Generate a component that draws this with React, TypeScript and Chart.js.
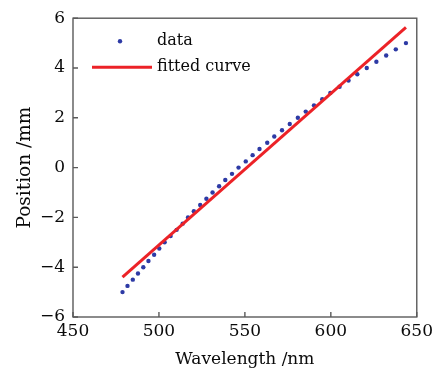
import React, { useEffect, useRef } from "react";
import { Chart, registerables } from "chart.js";

Chart.register(...registerables);

// Measured data points (wavelength in nm, position in mm)
const wavelength = [
  478.8, 481.7, 484.8, 487.8, 490.9, 493.9, 497.2, 500.2, 503.3, 506.8,
  510.3, 513.8, 516.9, 520.3, 524.0, 527.6, 531.2, 535.0, 538.6, 542.5,
  546.3, 550.5, 554.5, 558.5, 563.0, 567.1, 571.6, 576.1, 580.8, 585.4,
  590.2, 595.0, 599.7, 605.1, 610.3, 615.4, 620.9, 626.5, 632.2, 637.8,
  643.7,
];
const position = [
  -5.0, -4.75, -4.5, -4.25, -4.0, -3.75, -3.5, -3.25, -3.0, -2.75,
  -2.5, -2.25, -2.0, -1.75, -1.5, -1.25, -1.0, -0.75, -0.5, -0.25,
  0.0, 0.25, 0.5, 0.75, 1.0, 1.25, 1.5, 1.75, 2.0, 2.25,
  2.5, 2.75, 3.0, 3.25, 3.5, 3.75, 4.0, 4.25, 4.5, 4.75,
  5.0,
];
// Fitted straight line endpoints
const fitWavelength = [478.8, 643.7];
const fitPosition = [-4.4, 5.63];

const xTicks = [450, 500, 550, 600, 650];
const yTicks = [-6, -4, -2, 0, 2, 4, 6];
const legendLabels = ["data", "fitted curve"];
const xTitle = "Wavelength /nm";
const yTitle = "Position /mm";

const FONT = "'DejaVu Serif', serif";
const DOT = "#2d3aa5";
const RED = "#ec2227";
const FRAME = "#5a5a5a";
const TEXT = "#0a0a0a";

const framePlugin = {
  id: "frameAndLegend",
  afterDraw(chart: any) {
    const { ctx, chartArea } = chart;
    const { left, right, top, bottom } = chartArea;
    const xs = chart.scales.x;
    const ys = chart.scales.y;
    ctx.save();
    ctx.strokeStyle = FRAME;
    ctx.lineWidth = 1.4;
    ctx.strokeRect(left, top, right - left, bottom - top);
    ctx.beginPath();
    xTicks.forEach((v) => {
      const px = xs.getPixelForValue(v);
      ctx.moveTo(px, bottom);
      ctx.lineTo(px, bottom - 5);
    });
    yTicks.forEach((v) => {
      const py = ys.getPixelForValue(v);
      ctx.moveTo(left, py);
      ctx.lineTo(left + 5, py);
    });
    ctx.stroke();

    // legend inside plot area
    const ds0 = chart.data.datasets[1];
    const ds1 = chart.data.datasets[0];
    const lx = left + 19;
    const y0 = top + 23;
    const y1 = top + 49;
    ctx.fillStyle = ds0.backgroundColor;
    ctx.beginPath();
    ctx.arc(lx + 28, y0, 2.2, 0, Math.PI * 2);
    ctx.fill();
    ctx.strokeStyle = ds1.borderColor;
    ctx.lineWidth = 3;
    ctx.beginPath();
    ctx.moveTo(lx, y1);
    ctx.lineTo(lx + 60, y1);
    ctx.stroke();
    ctx.fillStyle = TEXT;
    ctx.font = `16px ${FONT}`;
    ctx.textBaseline = "middle";
    ctx.textAlign = "left";
    ctx.fillText(legendLabels[0], lx + 65, y0);
    ctx.fillText(legendLabels[1], lx + 65, y1);
    ctx.restore();
  },
};

export default function App() {
  const ref = useRef<HTMLCanvasElement | null>(null);
  useEffect(() => {
    document.body.style.margin = "0";
    const canvas = ref.current;
    if (!canvas) return;
    const chart = new Chart(canvas, {
      type: "scatter",
      data: {
        datasets: [
          {
            label: legendLabels[1],
            data: fitWavelength.map((x, i) => ({ x, y: fitPosition[i] })),
            showLine: true,
            borderColor: RED,
            backgroundColor: RED,
            borderWidth: 3,
            pointRadius: 0,
            order: 0,
          },
          {
            label: legendLabels[0],
            data: wavelength.map((x, i) => ({ x, y: position[i] })),
            showLine: false,
            backgroundColor: DOT,
            borderColor: DOT,
            pointRadius: 2.2,
            pointBorderWidth: 0,
            order: 1,
          },
        ],
      },
      options: {
        responsive: false,
        animation: false,
        layout: { padding: { left: 0, right: 15, top: 14, bottom: 0 } },
        plugins: {
          legend: { display: false },
          tooltip: { enabled: false },
        },
        scales: {
          x: {
            type: "linear",
            min: 450,
            max: 650,
            afterBuildTicks: (s: any) => {
              s.ticks = xTicks.map((v) => ({ value: v }));
            },
            afterFit: (s: any) => {
              s.height = 53;
            },
            grid: { display: false, drawTicks: false },
            border: { display: false },
            ticks: {
              padding: 4,
              color: TEXT,
              font: { family: FONT, size: 17 },
              maxRotation: 0,
              callback: (v: any) => String(v),
            },
            title: {
              display: true,
              text: xTitle,
              color: TEXT,
              font: { family: FONT, size: 17 },
              padding: { top: 5, bottom: 0 },
            },
          },
          y: {
            type: "linear",
            min: -6,
            max: 6,
            afterBuildTicks: (s: any) => {
              s.ticks = yTicks.map((v) => ({ value: v }));
            },
            afterFit: (s: any) => {
              s.width = 73;
            },
            grid: { display: false, drawTicks: false },
            border: { display: false },
            ticks: {
              padding: 8,
              color: TEXT,
              font: { family: FONT, size: 17 },
              callback: (v: any) => String(v).replace("-", "\u2212"),
            },
            title: {
              display: true,
              text: yTitle,
              color: TEXT,
              font: { family: FONT, size: 18.5 },
              padding: { top: 14, bottom: 0 },
            },
          },
        },
      },
      plugins: [framePlugin],
    });
    return () => chart.destroy();
  }, []);
  return <canvas ref={ref} width={437} height={370} />;
}
